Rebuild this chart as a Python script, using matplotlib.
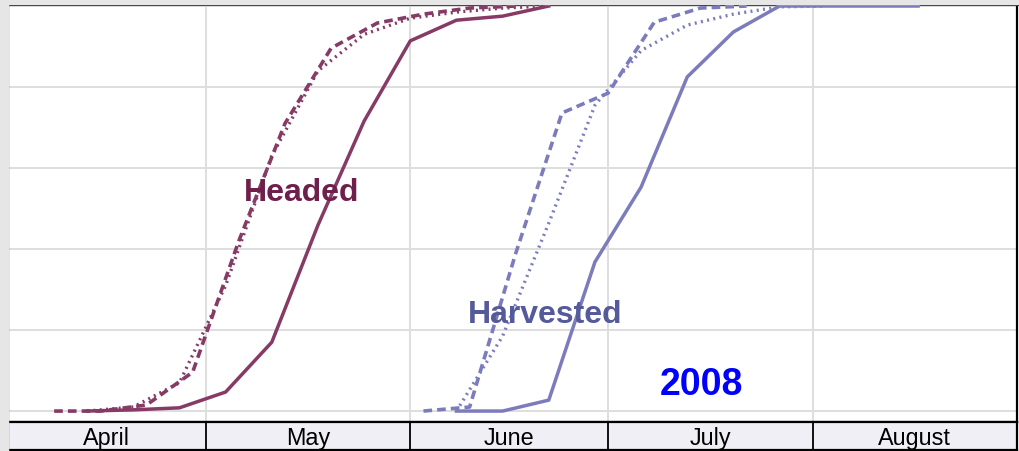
import numpy as np
import pandas as pd
import matplotlib
matplotlib.use('Agg')
import matplotlib.pyplot as plt
from matplotlib.patches import Rectangle

plt.rcParams['font.family'] = ['Liberation Sans', 'DejaVu Sans']

# headed, 2008 (solid)
headed_dates = ['2008-04-13', '2008-04-20', '2008-04-27', '2008-05-04', '2008-05-11', '2008-05-18',
                '2008-05-25', '2008-06-01', '2008-06-08', '2008-06-15', '2008-06-22']
headed_2008 = [0, 0.3, 0.8, 4.7, 17, 45.9, 71.6, 91.4, 96.5, 97.5, 100]
# headed, last year (dashed)
headed_prev_dates = ['2007-04-08', '2007-04-15', '2007-04-22', '2007-04-29', '2007-05-06', '2007-05-13',
                     '2007-05-20', '2007-05-27', '2007-06-03', '2007-06-10', '2007-06-17']
headed_prev = [0, 0, 1.5, 9.6, 42, 71, 89.6, 95.8, 98, 99.5, 100]
# headed, average (dotted)
headed_avg = [0, 1, 7, 31, 63, 84, 93, 97, 98.5, 99.5, 100]

# harvested, 2008 (solid)
harv_dates = ['2008-06-08', '2008-06-15', '2008-06-22', '2008-06-29', '2008-07-06', '2008-07-13',
              '2008-07-20', '2008-07-27', '2008-08-03', '2008-08-10', '2008-08-17']
harv_2008 = [0, 0, 2.7, 36.8, 55.3, 82.5, 93.6, 100, 100, 100, 100]
# harvested, last year (dashed)
harv_prev_dates = ['2007-06-03', '2007-06-10', '2007-06-17', '2007-06-24', '2007-07-01',
                   '2007-07-08', '2007-07-15', '2007-07-22']
harv_prev = [0, 1, 39, 73.6, 78.5, 96, 99.5, 100]
# harvested, average (dotted)
harv_avg_dates = ['2008-06-08', '2008-06-15', '2008-06-22', '2008-06-29', '2008-07-06',
                  '2008-07-13', '2008-07-20', '2008-07-27', '2008-08-03']
harv_avg = [0, 18.5, 46.4, 75.5, 89, 95.3, 98, 99.8, 100]

months = ['April', 'May', 'June', 'July', 'August']
month_starts = ['2008-04-01', '2008-05-01', '2008-06-01', '2008-07-01', '2008-08-01', '2008-09-01']


def season_day(dates):
	# days since april 1st of the same year
	d = pd.to_datetime(pd.Series(dates))
	start = pd.to_datetime(d.dt.year.astype(str) + '-04-01')
	return (d - start).dt.days.to_numpy()


bounds = season_day(month_starts)
c_head = '#863a66'
c_harv = '#7c7cbc'
dash = (0, (2.4, 1.4))
dot = (0, (0.6, 1.3))

fig = plt.figure(figsize=(10.2, 4.51), dpi=100, facecolor='white')
# grey margin of the original screenshot
fig.patches.append(Rectangle((0, 0), 8 / 1020, 1, transform=fig.transFigure, color='#e6e6e6', zorder=0))
fig.patches.append(Rectangle((0, 1 - 4 / 451), 1, 4 / 451, transform=fig.transFigure, color='#e6e6e6', zorder=0))

ax = fig.add_axes([8 / 1020, 29 / 451, 1009 / 1020, 418 / 451])
ax.set_xlim(bounds[0], bounds[-1])
ax.set_ylim(-2.7, 100.5)
for b in bounds[1:-1]:
	ax.axvline(b, color='#dedede', lw=1.4, zorder=1)
for yv in range(0, 101, 20):
	ax.axhline(yv, color='#dedede', lw=1.4, zorder=1)

hd = season_day(headed_dates)
ax.plot(season_day(headed_prev_dates), headed_prev, color=c_head, lw=2.6, ls=dash, zorder=3)
ax.plot(hd, headed_avg, color=c_head, lw=2.4, ls=dot, zorder=3)
ax.plot(hd, headed_2008, color=c_head, lw=2.5, zorder=4)

ax.plot(season_day(harv_prev_dates), harv_prev, color=c_harv, lw=2.6, ls=dash, zorder=3)
ax.plot(season_day(harv_avg_dates), harv_avg, color=c_harv, lw=2.4, ls=dot, zorder=3)
ax.plot(season_day(harv_dates), harv_2008, color=c_harv, lw=2.5, zorder=4)

ax.text(44.5, 53.8, 'Headed', color='#6e1f4c', fontsize=23, fontweight='bold', ha='center', va='center', zorder=5)
ax.text(81.5, 23.8, 'Harvested', color='#555a9a', fontsize=23, fontweight='bold', ha='center', va='center', zorder=5)
ax.text(105.2, 6.4, '2008', color='#0000ff', fontsize=27, fontweight='bold', ha='center', va='center', zorder=5)

ax.set_xticks([])
ax.set_yticks([])
for s in ax.spines.values():
	s.set_linewidth(1.6)
	s.set_color('black')
ax.spines['top'].set_linewidth(2.2)
ax.spines['top'].set_color('#222222')

# month band at the bottom
bx = fig.add_axes([8 / 1020, 1 / 451, 1009 / 1020, 28 / 451])
bx.set_facecolor('#efeff5')
bx.set_xlim(bounds[0], bounds[-1])
bx.set_ylim(0, 1)
for b in bounds[1:-1]:
	bx.axvline(b, color='black', lw=1.3)
for i, m in enumerate(months):
	bx.text((bounds[i] + bounds[i + 1]) / 2, 0.42, m, ha='center', va='center', fontsize=16.8, color='black')
bx.set_xticks([])
bx.set_yticks([])
for s in bx.spines.values():
	s.set_linewidth(1.6)

fig.savefig('out.png', dpi=100, facecolor='white')
